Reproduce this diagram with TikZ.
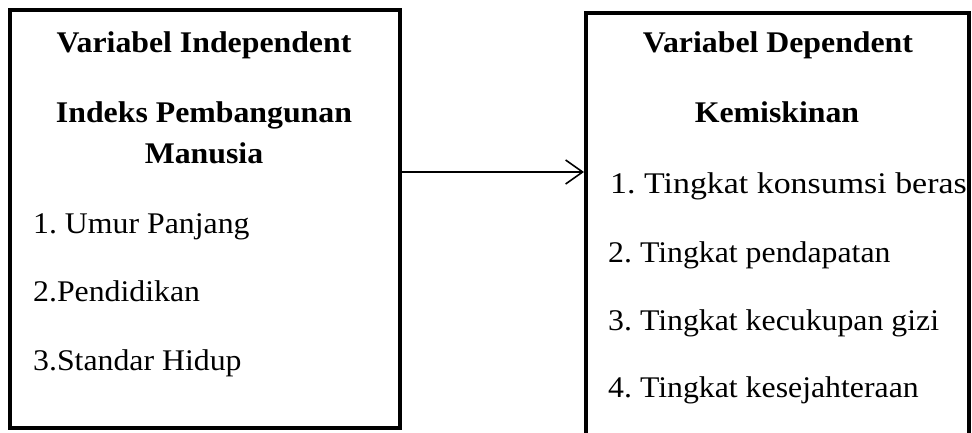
\documentclass[tikz,border=0pt]{standalone}
\usepackage{fontspec}
\setmainfont[FakeStretch=1.06]{Liberation Serif}
\newfontfamily\widefont[FakeStretch=1.13]{Liberation Serif}
\frenchspacing
\usetikzlibrary{arrows.meta}
\tikzset{
  box/.style={draw=black, line width=4pt, rectangle, inner sep=0pt},
  head/.style={anchor=base, inner sep=0pt, font=\fontsize{30}{36}\selectfont\bfseries},
  item/.style={anchor=base west, inner sep=0pt, font=\fontsize{30}{36}\selectfont},
  arr/.style={line width=1.6pt, -{Straight Barb[length=17pt,width=24pt,line width=1.6pt]}}
}
\begin{document}
\begin{tikzpicture}[x=1pt,y=1pt]
\useasboundingbox (0,0) rectangle (972,432);
\fill[white] (0,0) rectangle (972,432);
% boxes
\node[box, minimum width=390pt, minimum height=418pt] (ind) at (205,213) {};
\node[box, minimum width=383pt, minimum height=432pt] (dep) at (777.5,203) {};
% left texts
\node[head] (l1) at (204,379) {Variabel Independent};
\node[head] (l2) at (204,309) {Indeks Pembangunan};
\node[head] (l3) at (204,269) {Manusia};
\node[item] (l4) at (33,199) {1. Umur Panjang};
\node[item] (l5) at (33,131) {2.Pendidikan};
\node[item] (l6) at (33,62) {3.Standar Hidup};
% right texts
\node[head] (r1) at (778,379) {Variabel Dependent};
\node[head] (r2) at (777,309) {Kemiskinan};
\node[item, font=\fontsize{30}{36}\widefont] (r3) at (610,239) {1. Tingkat konsumsi beras};
\node[item] (r4) at (608,170) {2. Tingkat pendapatan};
\node[item] (r5) at (608,102) {3. Tingkat kecukupan gizi};
\node[item] (r6) at (608,35) {4. Tingkat kesejahteraan};
% arrow
\coordinate (a0) at (ind.east |- 0,260);
\coordinate (a1) at (dep.west |- 0,260);
\draw[arr] (a0) -- (a1);
\end{tikzpicture}
\end{document}
